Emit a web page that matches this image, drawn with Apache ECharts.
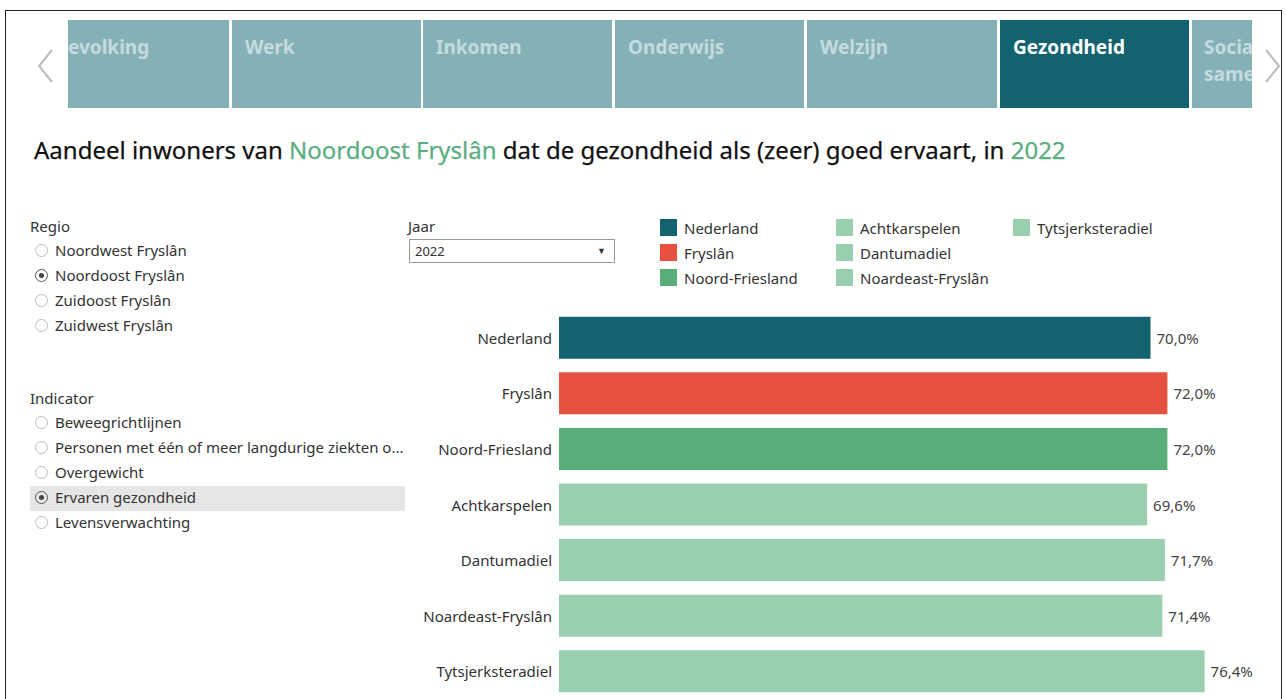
<!DOCTYPE html>
<html>
<head>
<meta charset="utf-8">
<script src="https://cdn.jsdelivr.net/npm/echarts@6/dist/echarts.min.js"></script>
<style>
  html, body { margin:0; padding:0; background:#fff; }
  body { width:1286px; height:699px; position:relative; overflow:hidden; font-family:"Noto Sans","Open Sans",sans-serif; color:#333; }
  .abs { position:absolute; }
  .frame { left:5px; top:10px; width:1277px; height:700px; border:1px solid #222; border-bottom:none; box-sizing:border-box; }
  .tab { position:absolute; top:20px; height:88px; background:#84b1b8; color:rgba(255,255,255,0.55); font-weight:bold; font-size:19px; box-sizing:border-box; padding:14px 0 0 13px; overflow:hidden; line-height:27px; white-space:nowrap; }
  .tab.active { background:#12636f; color:#fff; }
  .title { left:34px; top:133px; font-size:24px; color:#111; white-space:nowrap; -webkit-text-stroke:0.25px #111; }
  .title .g { color:#5aae80; -webkit-text-stroke:0.25px #5aae80; }
  .lbl { font-size:15px; color:#333; }
  .radio { position:absolute; font-size:15px; color:#333; white-space:nowrap; height:25px; line-height:25px; }
  .radio .c { display:inline-block; width:13px; height:13px; border:1px solid #bbb; border-radius:50%; vertical-align:middle; margin:0 7px 2px 5px; position:relative; box-sizing:border-box; }
  .radio .c.on { border-color:#555; }
  .radio .c.on::after { content:""; position:absolute; left:3px; top:3px; width:5px; height:5px; border-radius:50%; background:#444; }
  .sel { left:409px; top:239px; width:206px; height:24px; border:1px solid #999; box-sizing:border-box; font-size:13px; line-height:22px; padding-left:5px; }
  .sel span { position:absolute; right:8px; top:0; font-size:9px; }
  #chart { position:absolute; left:0; top:0; width:1286px; height:699px; }
</style>
</head>
<body>
<div class="abs frame"></div>
<div id="tabs"></div>
<svg class="abs" style="left:34px;top:46px;" width="24" height="40"><polyline points="18,4 5,20 18,36" fill="none" stroke="#bbb" stroke-width="2"/></svg>
<svg class="abs" style="left:1260px;top:46px;" width="24" height="40"><polyline points="6,4 19,20 6,36" fill="none" stroke="#bbb" stroke-width="2"/></svg>
<div class="abs title">Aandeel inwoners van <span class="g">Noordoost Fryslân</span> dat de gezondheid als (zeer) goed ervaart, in <span class="g">2022</span></div>
<div class="abs lbl" style="left:30px;top:216px;">Regio</div>
<div id="regio"></div>
<div class="abs lbl" style="left:30px;top:388px;">Indicator</div>
<div class="abs" style="left:30px;top:486px;width:375px;height:25px;background:#e6e6e6;"></div>
<div id="indicator"></div>
<div class="abs lbl" style="left:408px;top:216px;">Jaar</div>
<div class="abs sel">2022<span>&#9660;</span></div>
<div id="chart"></div>
<script>
// ---- data ----
const tabNames = ["evolking", "Werk", "Inkomen", "Onderwijs", "Welzijn", "Gezondheid", "Sociale samenhang"];
const activeTab = "Gezondheid";
const regioOptions = ["Noordwest Fryslân", "Noordoost Fryslân", "Zuidoost Fryslân", "Zuidwest Fryslân"];
const regioSelected = "Noordoost Fryslân";
const indicatorOptions = ["Beweegrichtlijnen", "Personen met één of meer langdurige ziekten o...", "Overgewicht", "Ervaren gezondheid", "Levensverwachting"];
const indicatorSelected = "Ervaren gezondheid";
const categories = ["Nederland", "Fryslân", "Noord-Friesland", "Achtkarspelen", "Dantumadiel", "Noardeast-Fryslân", "Tytsjerksteradiel"];
const values = [70.0, 72.0, 72.0, 69.6, 71.7, 71.4, 76.4];
const colors = ["#12636f", "#e5503f", "#57ae78", "#99cfae", "#99cfae", "#99cfae", "#99cfae"];
const legendCols = [
  ["Nederland", "Fryslân", "Noord-Friesland"],
  ["Achtkarspelen", "Dantumadiel", "Noardeast-Fryslân"],
  ["Tytsjerksteradiel"]
];

// ---- UI ----
const tabLeft = [68, 232, 423, 615, 807, 1000, 1192];
const tabRight = [229, 421, 612, 804, 997, 1189, 1252];
const tabsEl = document.getElementById('tabs');
tabNames.forEach((n, i) => {
  const d = document.createElement('div');
  d.className = 'tab' + (n === activeTab ? ' active' : '');
  d.style.left = tabLeft[i] + 'px';
  d.style.width = (tabRight[i] - tabLeft[i]) + 'px';
  if (i === 0) d.style.paddingLeft = '0px';
  if (i === tabNames.length - 1) {
    d.style.paddingLeft = '12px';
    d.style.whiteSpace = 'normal';
    d.innerHTML = n.split(' ').join('<br>');
  } else d.textContent = n;
  tabsEl.appendChild(d);
});
function radios(elId, opts, sel, top0) {
  const el = document.getElementById(elId);
  opts.forEach((o, i) => {
    const d = document.createElement('div');
    d.className = 'radio';
    d.style.left = '30px';
    d.style.top = (top0 + i * 25) + 'px';
    d.innerHTML = '<span class="c' + (o === sel ? ' on' : '') + '"></span>' + o;
    el.appendChild(d);
  });
}
radios('regio', regioOptions, regioSelected, 238);
radios('indicator', indicatorOptions, indicatorSelected, 410);

// ---- chart ----
const chart = echarts.init(document.getElementById('chart'), null, { renderer: 'svg' });
const fmt = v => v.toFixed(1).replace('.', ',') + '%';
const series = categories.map((c, i) => ({
  name: c,
  type: 'bar',
  stack: 'all',
  barWidth: 42,
  itemStyle: { color: colors[i] },
  label: { show: true, position: 'right', distance: 6, fontSize: 15, color: '#444', fontFamily: 'Noto Sans', formatter: p => fmt(p.value) },
  data: categories.map((_, j) => j === i ? values[i] : '-')
}));
const legendLeft = [655, 831, 1008];
chart.setOption({
  animation: false,
  textStyle: { fontFamily: 'Noto Sans' },
  grid: { left: 559, top: 310, width: 676, height: 391, containLabel: false },
  xAxis: { type: 'value', min: 0, max: 80, show: false },
  yAxis: {
    type: 'category', data: categories, inverse: true,
    axisLine: { show: false }, axisTick: { show: false },
    axisLabel: { fontSize: 15, color: '#333', margin: 7, fontFamily: 'Noto Sans' }
  },
  legend: legendCols.map((col, k) => ({
    data: col, orient: 'vertical', left: legendLeft[k], top: 214,
    itemWidth: 17, itemHeight: 17, itemGap: 8, icon: 'rect', selectedMode: false,
    textStyle: { fontSize: 15, color: '#333', padding: [0, 0, 0, 2], fontFamily: 'Noto Sans' }
  })),
  series: series
});
</script>
</body>
</html>
